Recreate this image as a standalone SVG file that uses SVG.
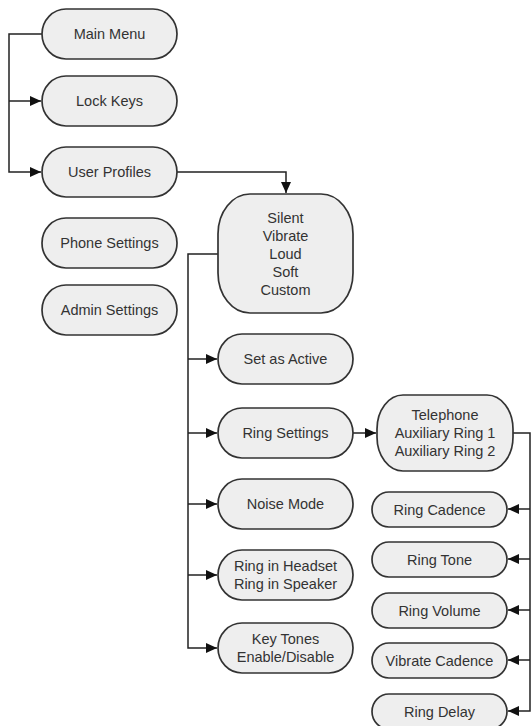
<svg xmlns="http://www.w3.org/2000/svg" width="532" height="726" viewBox="0 0 532 726">
<style>
.n{fill:#eeeeee;stroke:#333;stroke-width:1.7}
.t{font-family:"Liberation Sans",Arial,sans-serif;font-size:14.5px;fill:#333;text-anchor:middle;dominant-baseline:central}
.c{fill:none;stroke:#222;stroke-width:1.5}
</style>
<defs>
<marker id="a" markerUnits="userSpaceOnUse" markerWidth="12" markerHeight="11" refX="11" refY="5" orient="auto">
<path d="M0,0 L11,5 L0,10 z" fill="#111"/>
</marker>
</defs>
<rect width="532" height="726" fill="#fff"/>
<g id="connectors">
<path class="c" d="M42,34 H9 V172 H41" marker-end="url(#a)"/>
<path class="c" d="M9,101 H41" marker-end="url(#a)"/>
<path class="c" d="M177,172 H286 V193" marker-end="url(#a)"/>
<path class="c" d="M218,254 H188 V648 H217" marker-end="url(#a)"/>
<path class="c" d="M188,359 H217" marker-end="url(#a)"/>
<path class="c" d="M188,433 H217" marker-end="url(#a)"/>
<path class="c" d="M188,504 H217" marker-end="url(#a)"/>
<path class="c" d="M188,575 H217" marker-end="url(#a)"/>
<path class="c" d="M353,433 H376" marker-end="url(#a)"/>
<path class="c" d="M513,433 H530 V711 H508" marker-end="url(#a)"/>
<path class="c" d="M530,509 H508" marker-end="url(#a)"/>
<path class="c" d="M530,559 H508" marker-end="url(#a)"/>
<path class="c" d="M530,610 H508" marker-end="url(#a)"/>
<path class="c" d="M530,660 H508" marker-end="url(#a)"/>
</g>
<g id="main-menu"><rect class="n" x="42" y="9" width="135" height="50" rx="24" ry="25"/><text class="t" x="109.5" y="34">Main Menu</text></g>
<g id="lock-keys"><rect class="n" x="42" y="76" width="135" height="50" rx="24" ry="25"/><text class="t" x="109.5" y="101">Lock Keys</text></g>
<g id="user-profiles"><rect class="n" x="42" y="147" width="135" height="50" rx="24" ry="25"/><text class="t" x="109.5" y="172">User Profiles</text></g>
<g id="phone-settings"><rect class="n" x="42" y="218" width="135" height="50" rx="24" ry="25"/><text class="t" x="109.5" y="243">Phone Settings</text></g>
<g id="admin-settings"><rect class="n" x="42" y="285" width="135" height="50" rx="24" ry="25"/><text class="t" x="109.5" y="310">Admin Settings</text></g>
<g id="profiles"><rect class="n" x="218" y="194" width="135" height="119" rx="32" ry="40"/>
<text class="t" x="285.5" y="218">Silent</text><text class="t" x="285.5" y="236">Vibrate</text><text class="t" x="285.5" y="254">Loud</text><text class="t" x="285.5" y="272">Soft</text><text class="t" x="285.5" y="290">Custom</text></g>
<g id="set-as-active"><rect class="n" x="218" y="334" width="135" height="50" rx="24" ry="25"/><text class="t" x="285.5" y="359">Set as Active</text></g>
<g id="ring-settings"><rect class="n" x="218" y="408" width="135" height="50" rx="24" ry="25"/><text class="t" x="285.5" y="433">Ring Settings</text></g>
<g id="noise-mode"><rect class="n" x="218" y="479" width="135" height="50" rx="24" ry="25"/><text class="t" x="285.5" y="504">Noise Mode</text></g>
<g id="ring-in-headset"><rect class="n" x="218" y="550" width="135" height="50" rx="24" ry="25"/><text class="t" x="285.5" y="566">Ring in Headset</text><text class="t" x="285.5" y="584">Ring in Speaker</text></g>
<g id="key-tones"><rect class="n" x="218" y="623" width="135" height="50" rx="24" ry="25"/><text class="t" x="285.5" y="639">Key Tones</text><text class="t" x="285.5" y="657">Enable/Disable</text></g>
<g id="ring-source"><rect class="n" x="377" y="395" width="136" height="76" rx="26" ry="34"/><text class="t" x="445" y="415">Telephone</text><text class="t" x="445" y="433">Auxiliary Ring 1</text><text class="t" x="445" y="451">Auxiliary Ring 2</text></g>
<g id="ring-cadence"><rect class="n" x="372" y="492" width="135" height="35" rx="17" ry="17.5"/><text class="t" x="439.5" y="509.5">Ring Cadence</text></g>
<g id="ring-tone"><rect class="n" x="372" y="542" width="135" height="35" rx="17" ry="17.5"/><text class="t" x="439.5" y="559.5">Ring Tone</text></g>
<g id="ring-volume"><rect class="n" x="372" y="593" width="135" height="35" rx="17" ry="17.5"/><text class="t" x="439.5" y="610.5">Ring Volume</text></g>
<g id="vibrate-cadence"><rect class="n" x="372" y="643" width="135" height="35" rx="17" ry="17.5"/><text class="t" x="439.5" y="660.5">Vibrate Cadence</text></g>
<g id="ring-delay"><rect class="n" x="372" y="694" width="135" height="35" rx="17" ry="17.5"/><text class="t" x="439.5" y="711.5">Ring Delay</text></g>
</svg>
